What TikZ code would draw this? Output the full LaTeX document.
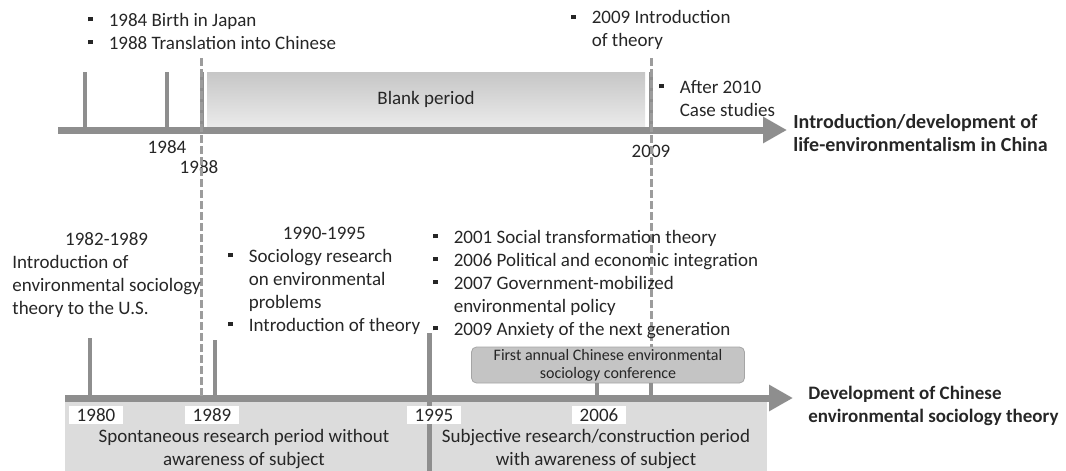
\documentclass[tikz,border=0pt]{standalone}
\usepackage{fontspec}
\setmainfont{Carlito}
\usepackage{tikz}
\usetikzlibrary{arrows.meta, positioning}
\definecolor{axisgray}{HTML}{8E8E8E}
\definecolor{dashgray}{HTML}{9C9C9C}
\definecolor{bandgray}{HTML}{DCDCDC}
\definecolor{boxgray}{HTML}{C4C4C4}
\definecolor{inkgray}{HTML}{262626}
\tikzstyle{txt} = [inner sep=0pt, text=inkgray, font=\fontsize{9.5}{11.5}\selectfont]
\tikzstyle{head} = [txt, font=\fontsize{9.5}{11.5}\selectfont\bfseries]
\tikzstyle{axis} = [draw=axisgray, line width=3.5pt, -{Triangle[length=12pt,width=12.5pt]}]
\tikzstyle{tick} = [draw=axisgray, line width=2pt]
\tikzstyle{guide} = [draw=dashgray, line width=1.5pt, dash pattern=on 4pt off 1.5pt]
\tikzstyle{year} = [txt, fill=white, minimum width=27pt, minimum height=9pt]
\tikzstyle{period} = [txt, top color=bandgray!90!black, bottom color=bandgray!60!white,
    minimum width=219pt, minimum height=27pt]
\tikzstyle{conf} = [draw=axisgray!80, fill=boxgray, rounded corners=2.5pt, align=center,
    minimum width=136.5pt, minimum height=18pt, inner sep=0pt, text=inkgray,
    font=\fontsize{8}{9}\selectfont]
\newcommand{\sq}{\rule[0.25em]{2.2pt}{2.2pt}}
\newcommand{\items}[1]{\begin{tabular}[t]{@{}l@{\hspace{8pt}}l@{}}#1\end{tabular}}
\newcommand{\lines}[1]{\begin{tabular}[t]{@{}l@{}}#1\end{tabular}}

\begin{document}
\begin{tikzpicture}[x=0.5pt, y=-0.5pt]
    \useasboundingbox (0,0) rectangle (1066,471);
    \fill[bandgray] (65,402) rectangle (767,471);
    \node [txt, align=center] (spont) at (244,449) {Spontaneous research period without\\awareness of subject};
    \node [txt, align=center] (subj) at (596,449) {Subjective research/construction period\\with awareness of subject};
    \node [period] (blank) at (426,99) {Blank period};

    \coordinate (top0) at (58,130);
    \coordinate (top1) at (787,130);
    \coordinate (bot0) at (65,398);
    \coordinate (bot1) at (793,398);
    \draw [axis] (top0) -- (top1);
    \draw [axis] (bot0) -- (bot1);

    \foreach \x in {85,167,202,651}
        \draw [tick] (\x,72) -- (\x,130);
    \foreach \x/\y in {90/338,215/340}
        \draw [tick] (\x,\y) -- (\x,398);
    \draw [tick, line width=2.5pt] (429,333) -- (429,471);

    \node [conf] (conf) at (608,365) {First annual Chinese environmental\\sociology conference};
    \coordinate (y2006) at (597,398);
    \coordinate (y2009) at (651,398);
    \draw [tick] (y2006) -- (y2006 |- conf.south);
    \draw [tick] (y2009) -- (y2009 |- conf.south);

    \node [txt] (l1984) at (167,147) {1984};
    \node [txt] (l1988) at (199,167) {1988};
    \node [txt] (l2009) at (651,151) {2009};
    \node [year] (l1980) at (96,415) {1980};
    \node [year] (l1989) at (212,415) {1989};
    \node [year] (l1995) at (434,415) {1995};
    \node [year] (l2006) at (599,415) {2006};

    \coordinate (g1988) at (201,58);
    \coordinate (g2009) at (651,58);
    \draw [guide] (g1988) -- (g1988 |- bot0);
    \draw [guide] (g2009) -- (g2009 |- conf.north);

    \node [txt, anchor=base west] (japan) at (88,26) {\items{\sq & 1984 Birth in Japan\\ \sq & 1988 Translation into Chinese}};
    \node [txt, anchor=base west] (intro) at (571,24) {\items{\sq & 2009 Introduction\\ & of theory}};
    \node [txt, anchor=base west] (cases) at (659,93) {\items{\sq & After 2010\\ & Case studies}};
    \node [head, font=\fontsize{10}{11.5}\selectfont\bfseries, anchor=base west] (lifeenv) at (793,128) {\lines{Introduction/development of\\life-environmentalism in China}};

    \node [txt, anchor=base west] (early) at (12,245) {\lines{\multicolumn{1}{@{}c@{}}{1982-1989}\\Introduction of\\environmental sociology\\theory to the U.S.}};
    \node [txt, anchor=base west] (nineties) at (228,239) {\items{\multicolumn{2}{@{}c@{}}{1990-1995}\\ \sq & Sociology research\\ & on environmental\\ & problems\\ \sq & Introduction of theory}};
    \node [txt, anchor=base west] (recent) at (433,243) {\items{\sq & 2001 Social transformation theory\\ \sq & 2006 Political and economic integration\\ \sq & 2007 Government-mobilized\\ & environmental policy\\ \sq & 2009 Anxiety of the next generation}};
    \node [head, anchor=base west] (envsoc) at (808,399) {\lines{Development of Chinese\\environmental sociology theory}};
\end{tikzpicture}
\end{document}
